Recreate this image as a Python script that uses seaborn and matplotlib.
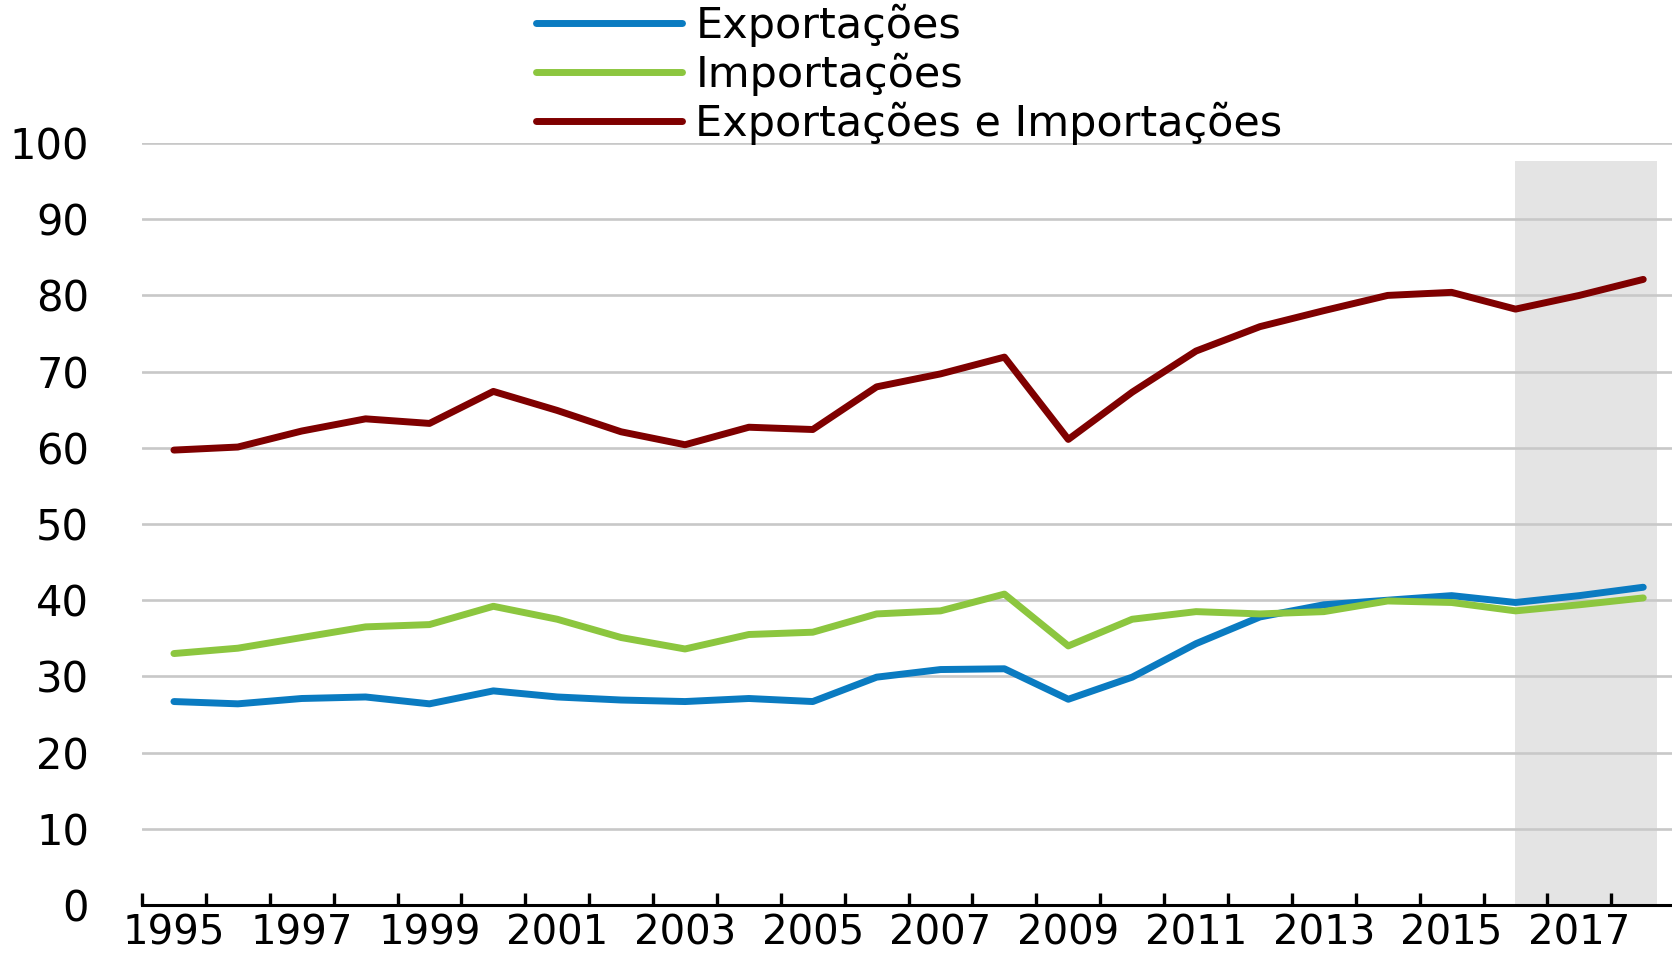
import numpy as np
import pandas as pd
import seaborn as sns
import matplotlib.pyplot as plt
from matplotlib.ticker import MultipleLocator, FixedLocator

# Dados (% do PIB)
anos = list(range(1995, 2019))
exportacoes = [26.7, 26.4, 27.1, 27.3, 26.4, 28.1, 27.3, 26.9, 26.7, 27.1, 26.7, 29.9,
               30.9, 31.0, 27.0, 29.9, 34.3, 37.8, 39.4, 40.0, 40.6, 39.7, 40.6, 41.7]
importacoes = [33.0, 33.7, 35.1, 36.5, 36.8, 39.2, 37.5, 35.1, 33.6, 35.5, 35.8, 38.2,
               38.6, 40.8, 34.0, 37.5, 38.5, 38.2, 38.5, 39.9, 39.7, 38.6, 39.4, 40.3]
total = [59.7, 60.1, 62.2, 63.8, 63.2, 67.4, 64.9, 62.1, 60.4, 62.7, 62.4, 68.0,
         69.7, 71.9, 61.1, 67.3, 72.7, 75.9, 78.0, 80.0, 80.4, 78.2, 80.0, 82.1]
series = ["Exportações", "Importações", "Exportações e Importações"]
cores = ["#0A7BC1", "#8CC63F", "#7F0000"]
anos_rotulo = list(range(1995, 2019, 2))

df = pd.DataFrame({"ano": anos, series[0]: exportacoes, series[1]: importacoes, series[2]: total})
df_long = df.melt(id_vars="ano", var_name="serie", value_name="valor")

sns.set_style("white")
plt.rcParams["font.family"] = ["DejaVu Sans"]
plt.rcParams["text.color"] = "black"
plt.rcParams["xtick.color"] = "black"
plt.rcParams["ytick.color"] = "black"

fig = plt.figure(figsize=(16.72, 9.57), dpi=100)
ax = fig.add_axes([142 / 1672, 1 - 905 / 957, 1 - 142 / 1672, (905 - 143) / 957])

# área sombreada (projeções)
ax.axvspan(2016, 2018.22, ymin=0, ymax=0.976, color="#E4E4E4", lw=0, zorder=0.2)

sns.lineplot(data=df_long, x="ano", y="valor", hue="serie", hue_order=series,
             palette=cores, linewidth=5, ax=ax, zorder=3)
for ln in ax.get_lines():
    ln.set_solid_capstyle("round")
    ln.set_solid_joinstyle("round")

ax.set_xlim(1994.5, 2018.45)
ax.set_ylim(0, 100)
ax.yaxis.set_major_locator(MultipleLocator(10))
ax.set_axisbelow(True)
ax.grid(axis="y", color="#C8C8C8", linewidth=1.9)
ax.grid(axis="x", visible=False)

ax.xaxis.set_major_locator(FixedLocator(anos_rotulo))
ax.xaxis.set_minor_locator(FixedLocator([a - 0.5 for a in anos] + [2018.5]))
ax.tick_params(axis="x", which="major", bottom=True, length=0, pad=6, labelsize=29, labelcolor="black")
ax.tick_params(axis="x", which="minor", bottom=True, direction="in", length=9, width=2.4, color="black")
ax.tick_params(axis="y", left=False, length=0, pad=38, labelsize=30, labelcolor="black")

for s in ["left", "right", "top"]:
    ax.spines[s].set_visible(False)
ax.spines["bottom"].set_color("black")
ax.spines["bottom"].set_linewidth(2.2)
ax.set_xlabel("")
ax.set_ylabel("")

handles, labels = ax.get_legend_handles_labels()
leg = ax.legend(handles, labels, loc="upper left", bbox_to_anchor=(536 / 1672, 1 - 4 / 957),
                bbox_transform=fig.transFigure, frameon=False, fontsize=31,
                handlelength=3.4, handletextpad=0.3, labelspacing=0.13, borderpad=0,
                borderaxespad=0)
for h in leg.get_lines():
    h.set_linewidth(5)
    h.set_solid_capstyle("round")
for t in leg.get_texts():
    t.set_color("black")

fig.savefig("out.png", dpi=100)
